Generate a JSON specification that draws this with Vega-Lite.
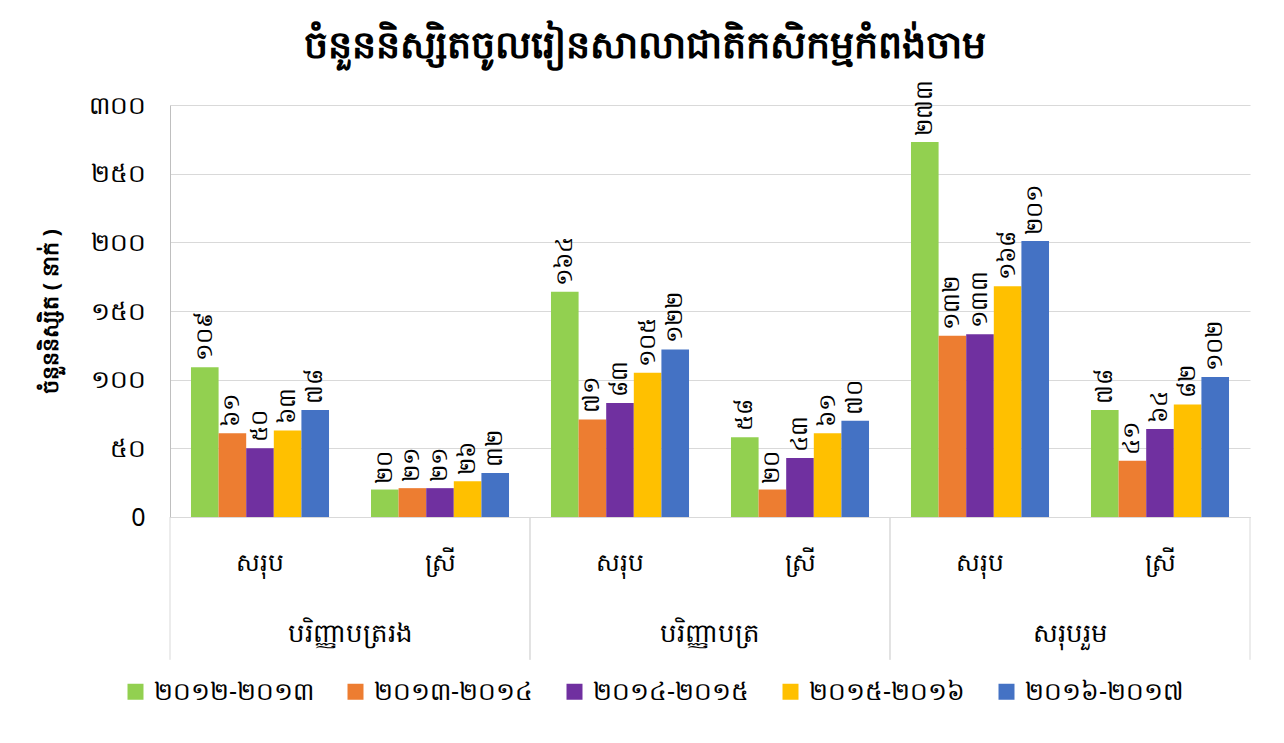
{
  "$schema": "https://vega.github.io/schema/vega-lite/v6.json",
  "width": 1080,
  "height": 412,
  "autosize": "none",
  "padding": {"left": 170, "top": 105, "right": 34, "bottom": 226},
  "background": "white",
  "title": {
    "text": "ចំនួននិស្សិតចូលរៀនសាលាជាតិកសិកម្មកំពង់ចាម",
    "fontSize": 38,
    "fontWeight": "bold",
    "anchor": "middle",
    "frame": "group",
    "dx": -65,
    "offset": 14,
    "color": "#000000"
  },
  "datasets": {
    "main": [
      {"group": "បរិញ្ញាបត្ររង", "cat": "បរិញ្ញាបត្ររង|សរុប", "year": "២០១២-២០១៣", "value": 109, "lbl": "១០៩"},
      {"group": "បរិញ្ញាបត្ររង", "cat": "បរិញ្ញាបត្ររង|សរុប", "year": "២០១៣-២០១៤", "value": 61, "lbl": "៦១"},
      {"group": "បរិញ្ញាបត្ររង", "cat": "បរិញ្ញាបត្ររង|សរុប", "year": "២០១៤-២០១៥", "value": 50, "lbl": "៥០"},
      {"group": "បរិញ្ញាបត្ររង", "cat": "បរិញ្ញាបត្ររង|សរុប", "year": "២០១៥-២០១៦", "value": 63, "lbl": "៦៣"},
      {"group": "បរិញ្ញាបត្ររង", "cat": "បរិញ្ញាបត្ររង|សរុប", "year": "២០១៦-២០១៧", "value": 78, "lbl": "៧៨"},
      {"group": "បរិញ្ញាបត្ររង", "cat": "បរិញ្ញាបត្ររង|ស្រី", "year": "២០១២-២០១៣", "value": 20, "lbl": "២០"},
      {"group": "បរិញ្ញាបត្ររង", "cat": "បរិញ្ញាបត្ររង|ស្រី", "year": "២០១៣-២០១៤", "value": 21, "lbl": "២១"},
      {"group": "បរិញ្ញាបត្ររង", "cat": "បរិញ្ញាបត្ររង|ស្រី", "year": "២០១៤-២០១៥", "value": 21, "lbl": "២១"},
      {"group": "បរិញ្ញាបត្ររង", "cat": "បរិញ្ញាបត្ររង|ស្រី", "year": "២០១៥-២០១៦", "value": 26, "lbl": "២៦"},
      {"group": "បរិញ្ញាបត្ររង", "cat": "បរិញ្ញាបត្ររង|ស្រី", "year": "២០១៦-២០១៧", "value": 32, "lbl": "៣២"},
      {"group": "បរិញ្ញាបត្រ", "cat": "បរិញ្ញាបត្រ|សរុប", "year": "២០១២-២០១៣", "value": 164, "lbl": "១៦៤"},
      {"group": "បរិញ្ញាបត្រ", "cat": "បរិញ្ញាបត្រ|សរុប", "year": "២០១៣-២០១៤", "value": 71, "lbl": "៧១"},
      {"group": "បរិញ្ញាបត្រ", "cat": "បរិញ្ញាបត្រ|សរុប", "year": "២០១៤-២០១៥", "value": 83, "lbl": "៨៣"},
      {"group": "បរិញ្ញាបត្រ", "cat": "បរិញ្ញាបត្រ|សរុប", "year": "២០១៥-២០១៦", "value": 105, "lbl": "១០៥"},
      {"group": "បរិញ្ញាបត្រ", "cat": "បរិញ្ញាបត្រ|សរុប", "year": "២០១៦-២០១៧", "value": 122, "lbl": "១២២"},
      {"group": "បរិញ្ញាបត្រ", "cat": "បរិញ្ញាបត្រ|ស្រី", "year": "២០១២-២០១៣", "value": 58, "lbl": "៥៨"},
      {"group": "បរិញ្ញាបត្រ", "cat": "បរិញ្ញាបត្រ|ស្រី", "year": "២០១៣-២០១៤", "value": 20, "lbl": "២០"},
      {"group": "បរិញ្ញាបត្រ", "cat": "បរិញ្ញាបត្រ|ស្រី", "year": "២០១៤-២០១៥", "value": 43, "lbl": "៤៣"},
      {"group": "បរិញ្ញាបត្រ", "cat": "បរិញ្ញាបត្រ|ស្រី", "year": "២០១៥-២០១៦", "value": 61, "lbl": "៦១"},
      {"group": "បរិញ្ញាបត្រ", "cat": "បរិញ្ញាបត្រ|ស្រី", "year": "២០១៦-២០១៧", "value": 70, "lbl": "៧០"},
      {"group": "សរុបរួម", "cat": "សរុបរួម|សរុប", "year": "២០១២-២០១៣", "value": 273, "lbl": "២៧៣"},
      {"group": "សរុបរួម", "cat": "សរុបរួម|សរុប", "year": "២០១៣-២០១៤", "value": 132, "lbl": "១៣២"},
      {"group": "សរុបរួម", "cat": "សរុបរួម|សរុប", "year": "២០១៤-២០១៥", "value": 133, "lbl": "១៣៣"},
      {"group": "សរុបរួម", "cat": "សរុបរួម|សរុប", "year": "២០១៥-២០១៦", "value": 168, "lbl": "១៦៨"},
      {"group": "សរុបរួម", "cat": "សរុបរួម|សរុប", "year": "២០១៦-២០១៧", "value": 201, "lbl": "២០១"},
      {"group": "សរុបរួម", "cat": "សរុបរួម|ស្រី", "year": "២០១២-២០១៣", "value": 78, "lbl": "៧៨"},
      {"group": "សរុបរួម", "cat": "សរុបរួម|ស្រី", "year": "២០១៣-២០១៤", "value": 41, "lbl": "៤១"},
      {"group": "សរុបរួម", "cat": "សរុបរួម|ស្រី", "year": "២០១៤-២០១៥", "value": 64, "lbl": "៦៤"},
      {"group": "សរុបរួម", "cat": "សរុបរួម|ស្រី", "year": "២០១៥-២០១៦", "value": 82, "lbl": "៨២"},
      {"group": "សរុបរួម", "cat": "សរុបរួម|ស្រី", "year": "២០១៦-២០១៧", "value": 102, "lbl": "១០២"}
    ],
    "groups": [
      {"group": "បរិញ្ញាបត្ររង"},
      {"group": "បរិញ្ញាបត្រ"},
      {"group": "សរុបរួម"}
    ]
  },
  "layer": [
    {
      "data": {"name": "main"},
      "layer": [
        {
          "mark": {"type": "bar"},
          "encoding": {
            "x": {
              "field": "cat", "type": "nominal", "sort": null,
              "scale": {"paddingInner": 0, "paddingOuter": 0},
              "axis": {
                "title": null,
                "labelExpr": "split(datum.label, '|')[1]",
                "labelAngle": 0,
                "labelFontSize": 25,
                "labelColor": "#000000",
                "labelPadding": 33,
                "ticks": false,
                "domainColor": "#D9D9D9",
                "domainWidth": 1
              }
            },
            "xOffset": {
              "field": "year", "type": "nominal", "sort": null,
              "scale": {"paddingInner": 0, "paddingOuter": 0.76}
            },
            "y": {
              "field": "value", "type": "quantitative",
              "scale": {"domain": [0, 300], "nice": false},
              "axis": {
                "values": [0, 50, 100, 150, 200, 250, 300],
                "labelExpr": "datum.value == 0 ? '0' : replace(replace(replace(replace(replace(replace(replace(datum.label, regexp('0','g'), '០'), regexp('1','g'), '១'), regexp('2','g'), '២'), regexp('3','g'), '៣'), regexp('5','g'), '៥'), regexp('4','g'), '៤'), regexp('6','g'), '៦')",
                "labelFontSize": 25,
                "labelColor": "#000000",
                "labelPadding": 25,
                "ticks": false,
                "domainColor": "#BFBFBF",
                "gridColor": "#D9D9D9",
                "title": "ចំនួននិស្សិត ( នាក់ )",
                "titleFontSize": 22,
                "titleFontWeight": "bold",
                "titleColor": "#000000",
                "titlePadding": 26
              }
            },
            "color": {
              "field": "year", "type": "nominal", "sort": null,
              "scale": {
                "domain": ["២០១២-២០១៣", "២០១៣-២០១៤", "២០១៤-២០១៥", "២០១៥-២០១៦", "២០១៦-២០១៧"],
                "range": ["#92D050", "#ED7D31", "#7030A0", "#FFC000", "#4472C4"]
              },
              "legend": {
                "title": null,
                "orient": "none",
                "legendX": -47,
                "legendY": 574,
                "direction": "horizontal",
                "symbolType": "square",
                "symbolSize": 256,
                "symbolStrokeWidth": 0,
                "labelFontSize": 25,
                "labelLimit": 400,
                "labelColor": "#000000",
                "labelOffset": 6,
                "columnPadding": 28
              }
            }
          }
        },
        {
          "mark": {"type": "text", "angle": 270, "align": "left", "baseline": "middle", "dx": 6, "fontSize": 23, "color": "#000000"},
          "encoding": {
            "x": {"field": "cat", "type": "nominal", "sort": null},
            "xOffset": {"field": "year", "type": "nominal", "sort": null},
            "y": {"field": "value", "type": "quantitative"},
            "text": {"field": "lbl"}
          }
        }
      ]
    },
    {
      "data": {"name": "groups"},
      "layer": [
        {
          "mark": {"type": "text", "fontSize": 26, "color": "#000000", "baseline": "middle"},
          "encoding": {
            "x": {"field": "group", "type": "nominal", "sort": null, "scale": {"paddingInner": 0, "paddingOuter": 0}, "axis": null},
            "y": {"datum": -85, "type": "quantitative"},
            "text": {"field": "group"}
          }
        },
        {
          "mark": {"type": "rule", "color": "#D9D9D9", "strokeWidth": 1},
          "encoding": {
            "x": {"field": "group", "type": "nominal", "sort": null, "bandPosition": 0, "axis": null},
            "y": {"datum": 0, "type": "quantitative"},
            "y2": {"datum": -104}
          }
        },
        {
          "mark": {"type": "rule", "color": "#D9D9D9", "strokeWidth": 1},
          "encoding": {
            "x": {"field": "group", "type": "nominal", "sort": null, "bandPosition": 1, "axis": null},
            "y": {"datum": 0, "type": "quantitative"},
            "y2": {"datum": -104}
          }
        }
      ]
    }
  ],
  "resolve": {"scale": {"x": "independent"}},
  "config": {
    "font": "Noto Sans",
    "view": {"stroke": null}
  }
}
